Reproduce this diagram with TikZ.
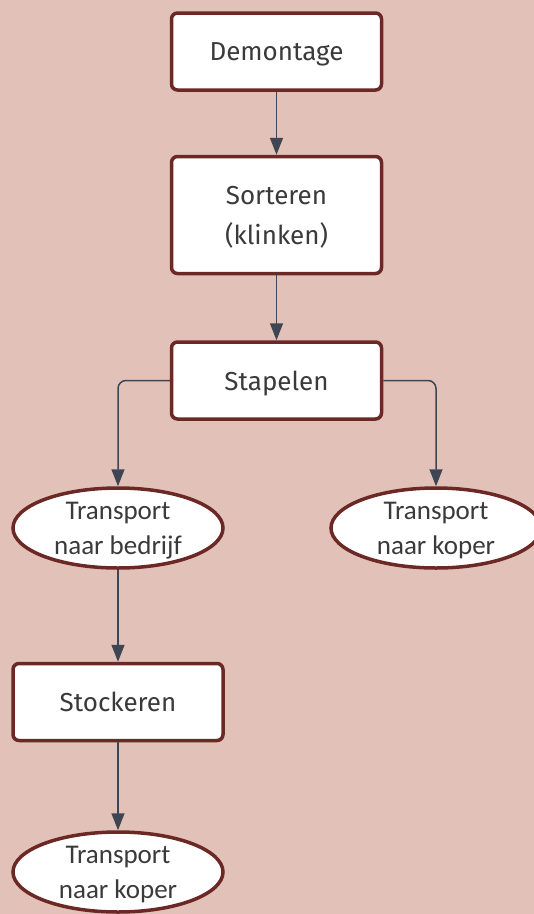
\documentclass[tikz,border=0pt]{standalone}
\usepackage{fontspec}
\setmainfont{Fira Sans}
\newfontfamily\ovalfont{Carlito}
\usepackage{tikz}
\usetikzlibrary{arrows.meta,positioning,shapes.geometric}
\definecolor{bgpink}{HTML}{E2C2B8}
\definecolor{rim}{HTML}{6B2824}
\definecolor{wire}{HTML}{3D4652}
\definecolor{ink}{HTML}{3A3A3A}
\tikzset{
  >=Stealth,
  stepbox/.style={rectangle, draw=rim, line width=3.5pt, fill=white, rounded corners=6pt,
    minimum width=210pt, minimum height=77pt, text=ink, align=center, text depth=0pt,
    font=\fontsize{26}{40}\selectfont},
  oval/.style={ellipse, draw=rim, line width=3.5pt, fill=white, minimum width=210pt,
    minimum height=80pt, text=ink, align=center, inner sep=0pt, text depth=0pt,
    font=\ovalfont\fontsize{27}{35}\selectfont},
  arrow/.style={-{Triangle[width=13pt,length=17pt]}, draw=wire, line width=1.5pt, rounded corners=8pt}
}
\begin{document}
\begin{tikzpicture}[x=1pt, y=-1pt, node distance=65pt]
  \fill[bgpink] (0,0) rectangle (534,914);
  \useasboundingbox (0,0) rectangle (534,914);

  \node[stepbox] (demo) at (276.5,51.5) {Demontage};
  \node[stepbox, minimum height=117pt, below=63pt of demo] (sort) {Sorteren\\(klinken)};
  \node[stepbox, below=of sort] (stap) {Stapelen};
  \node[oval] (tbed) at (118,528) {Transport\\naar bedrijf};
  \node[oval] (tkop) at (436,528) {Transport\\naar koper};
  \node[stepbox] (stock) at (118,702) {Stockeren};
  \node[oval] (tkop2) at (118,872) {Transport\\naar koper};

  \draw[arrow] (demo) -- (sort);
  \draw[arrow] (sort) -- (stap);
  \draw[arrow] (stap.west) -| (tbed.north);
  \draw[arrow] (stap.east) -| (tkop.north);
  \draw[arrow] (tbed) -- (stock);
  \draw[arrow] (stock) -- (tkop2);
\end{tikzpicture}
\end{document}
